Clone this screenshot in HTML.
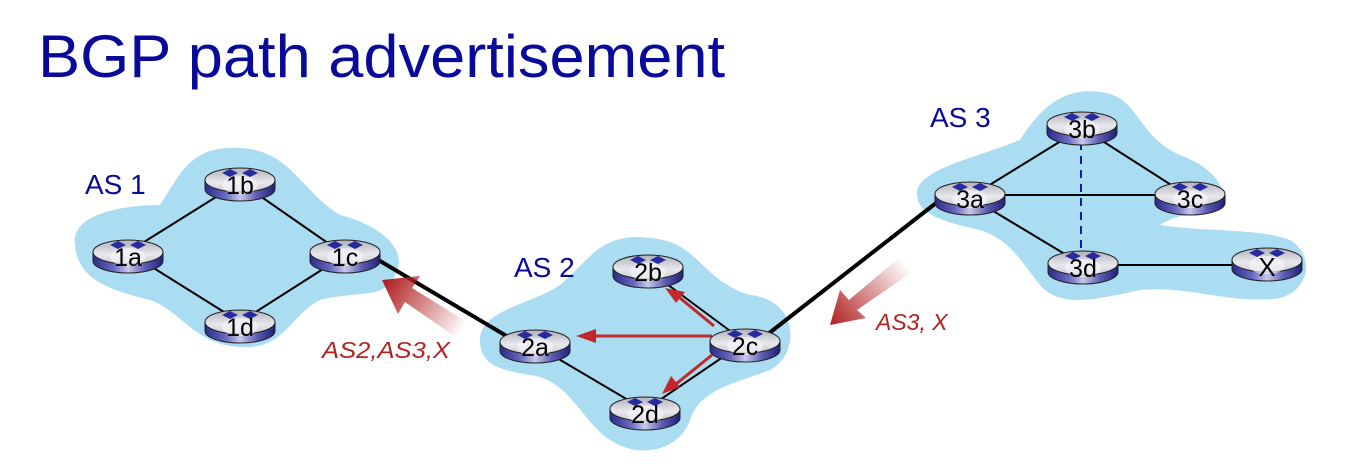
<!DOCTYPE html>
<html><head><meta charset="utf-8"><style>
html,body{margin:0;padding:0;background:#fff;}
svg{display:block;}
</style></head><body>
<svg width="1354" height="468" viewBox="0 0 1354 468" xmlns="http://www.w3.org/2000/svg" font-family="Liberation Sans, Arial, sans-serif">
<defs>
<linearGradient id="top" x1="0" y1="0" x2="0" y2="1">
<stop offset="0" stop-color="#b0b0b8"/><stop offset="0.6" stop-color="#e8e8ee"/><stop offset="1" stop-color="#c8c8d0"/>
</linearGradient>
<linearGradient id="side" x1="0" y1="0" x2="1" y2="0">
<stop offset="0" stop-color="#2a2a8a"/><stop offset="0.3" stop-color="#6a6ac0"/><stop offset="0.5" stop-color="#c8c8e8"/><stop offset="0.75" stop-color="#5a5ab0"/><stop offset="1" stop-color="#20207a"/>
</linearGradient>
<linearGradient id="a1" x1="462" y1="332" x2="385" y2="283" gradientUnits="userSpaceOnUse">
<stop offset="0" stop-color="#b22222" stop-opacity="0"/><stop offset="1" stop-color="#b22222"/>
</linearGradient>
<linearGradient id="a2" x1="908" y1="266" x2="832" y2="325" gradientUnits="userSpaceOnUse">
<stop offset="0" stop-color="#b22222" stop-opacity="0"/><stop offset="1" stop-color="#b22222"/>
</linearGradient>
<g id="r">
<path d="M-35,-3 L-35,6 A35,12 0 0,0 35,6 L35,-3 Z" fill="url(#side)" stroke="#222" stroke-width="1"/>
<ellipse cx="0" cy="-3" rx="35" ry="12" fill="url(#top)" stroke="#222" stroke-width="1"/>
<ellipse cx="0" cy="2" rx="18" ry="9" fill="#f4f4fa" opacity="0.7"/>
<path d="M-18,-10 l8,-4 v8 z M-2,-10 l-8,-4 v8z" fill="#2a2aa0"/>
<path d="M2,-10 l8,-4 v8 z M18,-10 l-8,-4 v8z" fill="#2a2aa0"/>
</g>
</defs>

<text x="38" y="77" font-size="60" fill="#0a0a9a" textLength="687" lengthAdjust="spacingAndGlyphs">BGP path advertisement</text>

<!-- blobs -->
<path d="M75,245 C70,215 120,205 160,205 C180,175 190,145 240,148 C290,150 300,190 340,215 C380,225 410,250 395,275 C385,300 360,290 320,300 C290,315 285,350 240,347 C195,345 180,310 150,300 C110,290 78,280 75,245 Z" fill="#aadcf2"/>
<path d="M480,340 C480,310 530,305 560,285 C590,260 600,232 650,238 C700,242 700,280 750,295 C800,300 800,355 770,370 C730,385 700,390 690,420 C680,450 640,460 610,440 C580,420 570,380 530,375 C500,370 480,365 480,340 Z" fill="#aadcf2"/>
<path d="M917,195 C915,170 970,160 1020,140 C1045,100 1070,88 1100,92 C1140,96 1135,135 1180,155 C1220,170 1230,195 1215,205 C1200,215 1180,212 1160,225 C1200,232 1260,228 1290,240 C1315,255 1310,290 1280,298 C1230,305 1190,285 1140,290 C1095,300 1060,308 1040,285 C1020,260 1010,240 980,230 C945,222 918,215 917,195 Z" fill="#aadcf2"/>

<!-- links -->
<g stroke="#000" stroke-width="2" fill="none">
<line x1="128" y1="252" x2="240" y2="182"/>
<line x1="240" y1="182" x2="345" y2="255"/>
<line x1="128" y1="252" x2="240" y2="322"/>
<line x1="240" y1="322" x2="345" y2="255"/>
<line x1="535" y1="345" x2="645" y2="410"/>
<line x1="648" y1="270" x2="745" y2="342"/>
<line x1="645" y1="410" x2="745" y2="342"/>
<line x1="970" y1="197" x2="1082" y2="128"/>
<line x1="1082" y1="128" x2="1190" y2="197"/>
<line x1="970" y1="195" x2="1190" y2="195"/>
<line x1="970" y1="197" x2="1083" y2="265"/>
<line x1="1083" y1="265" x2="1270" y2="265"/>
</g>
<line x1="1081" y1="142" x2="1081" y2="252" stroke="#1a1aa0" stroke-width="2" stroke-dasharray="8,6"/>
<g stroke="#000" stroke-width="4">
<line x1="375" y1="258" x2="510" y2="338"/>
<line x1="768" y1="334" x2="945" y2="196"/>
</g>

<!-- shadow arrows -->
<path d="M467,322 L412,288 L420,276 L382,280 L398,314 L405,302 L457,338 Z" fill="url(#a1)"/>
<path d="M899,258 L849,300 L840,290 L830,325 L866,318 L857,310 L912,272 Z" fill="url(#a2)"/>

<!-- red arrows in AS2 -->
<g stroke="#c0282a" stroke-width="3" fill="#c0282a">
<line x1="712" y1="336" x2="590" y2="336"/>
<line x1="714" y1="326" x2="680" y2="298"/>
<line x1="712" y1="355" x2="676" y2="384"/>
</g>
<g fill="#c0282a">
<polygon points="576,336 596,329 596,343"/>
<polygon points="665,288 685,292 676,303"/>
<polygon points="662,394 671,376 680,387"/>
</g>

<!-- routers -->
<g font-size="25" fill="#000" text-anchor="middle">
<use href="#r" x="128" y="255"/><text x="128" y="266">1a</text>
<use href="#r" x="240" y="183"/><text x="240" y="194">1b</text>
<use href="#r" x="345" y="255"/><text x="345" y="266">1c</text>
<use href="#r" x="240" y="325"/><text x="240" y="336">1d</text>
<use href="#r" x="535" y="345"/><text x="535" y="356">2a</text>
<use href="#r" x="648" y="270"/><text x="648" y="281">2b</text>
<use href="#r" x="745" y="344"/><text x="745" y="355">2c</text>
<use href="#r" x="645" y="412"/><text x="645" y="423">2d</text>
<use href="#r" x="970" y="197"/><text x="970" y="208">3a</text>
<use href="#r" x="1082" y="127"/><text x="1082" y="138">3b</text>
<use href="#r" x="1190" y="197"/><text x="1190" y="208">3c</text>
<use href="#r" x="1083" y="266"/><text x="1083" y="277">3d</text>
<use href="#r" x="1267" y="263"/><text x="1267" y="276" font-size="26">X</text>
</g>

<g font-size="28" fill="#0a0a9a">
<text x="85" y="194">AS 1</text>
<text x="514" y="277">AS 2</text>
<text x="930" y="127">AS 3</text>
</g>
<g font-size="23" fill="#b22222" font-style="italic">
<text x="322" y="358" textLength="128" lengthAdjust="spacingAndGlyphs">AS2,AS3,X</text>
<text x="876" y="330">AS3, X</text>
</g>
</svg>
</body></html>
